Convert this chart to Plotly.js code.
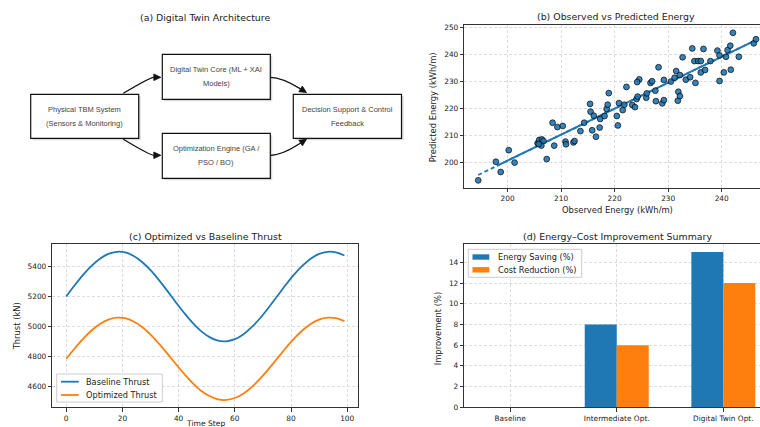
<!DOCTYPE html>
<html><head><meta charset="utf-8">
<script src="https://cdn.plot.ly/plotly-3.0.1.min.js"></script>
<style>html,body{margin:0;padding:0;background:#fff}#chart{width:760px;height:427px}</style>
</head><body><div id="chart"></div>
<script>
// ---------- (a) architecture nodes ----------
const nodeLabels = [
  ["Physical TBM System", "(Sensors & Monitoring)"],
  ["Digital Twin Core (ML + XAI", "Models)"],
  ["Optimization Engine (GA /", "PSO / BO)"],
  ["Decision Support & Control", "Feedback"]
];

// ---------- (b) observed vs predicted ----------
const observedEnergy = [194.5,197.8,198.7,200.2,201.3,205.6,205.9,206.4,206.7,206.3,
  205.8,207.3,208.4,209.3,210.3,208.7,210.8,210.9,212.3,212.5,
  213.6,214.3,215.4,215.5,216.1,215.8,216.5,217.2,217.3,218.1,
  218.5,218.7,218.9,220.4,220.6,220.8,221.5,221.8,222.2,223.3,
  223.8,224.1,224.3,224.6,224.2,225.9,226.0,226.7,227.0,227.6,
  227.7,228.2,228.9,229.2,229.2,230.5,231.2,231.5,231.8,231.9,
  232.2,232.2,232.7,233.3,234.1,234.5,234.9,235.1,235.6,236.1,
  236.1,236.6,236.9,237.9,239.2,239.6,239.6,240.4,240.8,241.1,
  241.6,241.7,242.1,243.2,246.0,246.4];
const predictedEnergy = [193.3,200.2,196.4,204.5,199.9,207.1,208.3,208.5,207.9,206.2,
  206.8,201.2,214.7,213.1,213.5,206.2,207.7,206.7,207.4,207.9,
  211.6,214.7,221.7,218.8,217.3,211.9,209.5,212.9,216.1,217.2,
  219.8,221.4,225.7,217.2,213.7,222.0,219.4,221.4,228.0,221.3,
  220.5,223.5,224.4,230.8,229.8,224.0,225.6,229.5,230.1,226.6,
  222.7,235.3,221.9,223.1,230.6,230.0,231.4,233.9,222.9,226.2,
  224.6,232.4,239.0,230.7,231.6,242.3,237.6,229.5,237.6,237.6,
  233.4,242.1,234.3,237.6,241.5,230.2,239.7,233.4,239.2,241.7,
  243.3,234.4,248.1,239.2,244.2,245.7];
const idealObserved = [194.5, 246.4];
const idealPredicted = [195.3, 245.4];
const fitObserved = [198.0, 246.4];
const fitPredicted = [198.7, 245.4];

// ---------- (c) thrust ----------
const timeStep = [0,3,6,9,12,15,18,21,24,27,30,33,36,39,42,45,48,51,54,57,60,63,66,69,72,75,78,81,84,87,90,93,96,99];
const baselineThrust = [5200,5275,5345,5405,5453,5485,5499,5495,5471,5431,5376,5310,5238,5162,5090,5024,4969,4929,4905,4901,4915,4947,4995,5055,5125,5200,5275,5345,5405,5453,5485,5499,5495,5474];
const optimizedThrust = [4784,4853,4917,4973,5017,5046,5059,5055,5033,4997,4946,4885,4819,4749,4683,4622,4571,4535,4513,4509,4522,4551,4595,4651,4715,4784,4853,4917,4973,5017,5046,5059,5055,5036];
const thrustSeriesNames = ["Baseline Thrust", "Optimized Thrust"];

// ---------- (d) summary ----------
const scenarios = ["Baseline", "Intermediate Opt.", "Digital Twin Opt."];
const energySaving = [0, 8, 15];
const costReduction = [0, 6, 12];
const summarySeriesNames = ["Energy Saving (%)", "Cost Reduction (%)"];

// ---------- helpers ----------
const W = 760, H = 427;
const px = x => x / W;
const py = y => 1 - y / H;
const BLUE = '#1f77b4', ORANGE = '#ff7f0e';
const FONT = 'DejaVu Sans, Verdana, sans-serif';
const TICKF = {family: FONT, size: 7.4, color: '#222'};
const BOXFONT = 'Liberation Sans, Arial, sans-serif';

const traces = [
  {x: idealObserved, y: idealPredicted, xaxis: 'x2', yaxis: 'y2', mode: 'lines',
   line: {color: BLUE, width: 1.8, dash: '4px,3px'}, showlegend: false, hoverinfo: 'skip'},
  {x: fitObserved, y: fitPredicted, xaxis: 'x2', yaxis: 'y2', mode: 'lines',
   line: {color: BLUE, width: 2}, showlegend: false, hoverinfo: 'skip'},
  {x: observedEnergy, y: predictedEnergy, xaxis: 'x2', yaxis: 'y2', mode: 'markers', type: 'scatter',
   marker: {color: BLUE, size: 5.8, opacity: 0.9, line: {color: '#000', width: 0.8}}, showlegend: false},
  {x: timeStep, y: baselineThrust, xaxis: 'x', yaxis: 'y', mode: 'lines', name: thrustSeriesNames[0],
   line: {color: BLUE, width: 1.8, shape: 'spline'}, showlegend: false},
  {x: timeStep, y: optimizedThrust, xaxis: 'x', yaxis: 'y', mode: 'lines', name: thrustSeriesNames[1],
   line: {color: ORANGE, width: 1.8, shape: 'spline'}, showlegend: false},
  {x: scenarios, y: energySaving, xaxis: 'x3', yaxis: 'y3', type: 'bar', name: summarySeriesNames[0],
   marker: {color: BLUE}, showlegend: false},
  {x: scenarios, y: costReduction, xaxis: 'x3', yaxis: 'y3', type: 'bar', name: summarySeriesNames[1],
   marker: {color: ORANGE}, showlegend: false}
];

const axBase = {
  showline: true, linecolor: '#333', linewidth: 1,
  ticks: 'outside', ticklen: 3.5, tickwidth: 0.8, tickcolor: '#333',
  tickfont: TICKF, showgrid: true, gridcolor: '#dcdcdc', gridwidth: 0.8, griddash: '3px,2px',
  zeroline: false, automargin: false
};

const cL = 52.3, cR = 358.3, rowBotTop = 244.3, rowBotBot = 407.3;
const bL = 464.3, bTop = 25, bBot = 187.7;

const layout = {
  width: W, height: H, margin: {l: 0, r: 0, t: 0, b: 0},
  paper_bgcolor: '#fff', plot_bgcolor: '#fff', showlegend: false,
  font: {family: FONT, size: 7.4, color: '#222'},
  bargap: 0.4, bargroupgap: 0, barmode: 'group',
  xaxis: Object.assign({}, axBase, {domain: [px(cL), px(cR)], anchor: 'y', range: [-4.95, 103.95],
    tickvals: [0, 20, 40, 60, 80, 100], mirror: true}),
  yaxis: Object.assign({}, axBase, {domain: [py(rowBotBot), py(rowBotTop)], anchor: 'x', range: [4460, 5549],
    tickvals: [4600, 4800, 5000, 5200, 5400], mirror: true}),
  xaxis2: Object.assign({}, axBase, {domain: [px(bL), 1], anchor: 'y2', range: [191.9, 247.16],
    tickvals: [200, 210, 220, 230, 240], mirror: true}),
  yaxis2: Object.assign({}, axBase, {domain: [py(bBot), py(bTop)], anchor: 'x2', range: [190.57, 251.0],
    tickvals: [200, 210, 220, 230, 240, 250], mirror: false}),
  xaxis3: Object.assign({}, axBase, {domain: [px(bL), 1], anchor: 'y3', type: 'category',
    range: [-0.43, 2.344], mirror: true}),
  yaxis3: Object.assign({}, axBase, {domain: [py(rowBotBot), py(rowBotTop)], anchor: 'x3', range: [0, 15.75],
    tickvals: [0, 2, 4, 6, 8, 10, 12, 14], mirror: false}),
  shapes: [],
  annotations: []
};

function ann(text, x, y, extra) {
  layout.annotations.push(Object.assign({
    text: text, x: px(x), y: py(y), xref: 'paper', yref: 'paper', showarrow: false,
    xanchor: 'center', yanchor: 'middle', font: {family: FONT, size: 9.4, color: '#222'}
  }, extra || {}));
}
function rect(x0, y0, x1, y1, fill, line) {
  layout.shapes.push({type: 'rect', xref: 'paper', yref: 'paper', layer: 'above',
    x0: px(x0), x1: px(x1), y0: py(y0), y1: py(y1), fillcolor: fill, line: line || {width: 0}});
}

// titles
ann('(a) Digital Twin Architecture', 205.3, 17);
ann('(b) Observed vs Predicted Energy', 616.3, 16.7);
ann('(c) Optimized vs Baseline Thrust', 205.3, 236.7);
ann('(d) Energy\u2013Cost Improvement Summary', 617.2, 236.7);
// axis labels
const lab = {family: FONT, size: 8.4, color: '#222'};
ann('Observed Energy (kWh/m)', 617, 210.3, {font: lab});
ann('Predicted Energy (kWh/m)', 433.3, 107, {font: lab, textangle: -90});
ann('Thrust (kN)', 17.3, 326, {font: lab, textangle: -90});
ann('Time Step', 205.3, 423.6, {font: {family: FONT, size: 7.6, color: '#222'}});
ann('Improvement (%)', 438.3, 328, {font: lab, textangle: -90});

// legends (drawn as layout decorations)
const legF = {family: FONT, size: 8.2, color: '#222'};
rect(56.7, 374, 162.3, 402, 'rgba(255,255,255,0.85)', {color: '#cccccc', width: 1});
[[BLUE, 381.7], [ORANGE, 395]].forEach((e, i) => {
  layout.shapes.push({type: 'line', xref: 'paper', yref: 'paper', layer: 'above',
    x0: px(61), x1: px(78.7), y0: py(e[1]), y1: py(e[1]), line: {color: e[0], width: 1.8}});
  ann(thrustSeriesNames[i], 84.3, e[1], {font: legF, xanchor: 'left'});
});
rect(468.3, 249.3, 581.7, 277.3, 'rgba(255,255,255,0.85)', {color: '#cccccc', width: 1});
[[BLUE, 257], [ORANGE, 269.8]].forEach((e, i) => {
  rect(472.5, e[1] - 2.7, 489.3, e[1] + 2.7, e[0]);
  ann(summarySeriesNames[i], 496, e[1], {font: legF, xanchor: 'left'});
});

// (a) diagram boxes (pixel layout)
const boxes = [
  [30.7, 94.3, 138.7, 138.3],
  [162.3, 54.3, 270.3, 99.3],
  [162.3, 133.3, 270.3, 178.3],
  [293.3, 94.3, 401.5, 138.3]
];
boxes.forEach((b, i) => {
  rect(b[0] + 2, b[1] + 2, b[2] + 2, b[3] + 2, '#d9d9d9');
  rect(b[0], b[1], b[2], b[3], '#ffffff', {color: '#111', width: 1.2});
  const cx = (b[0] + b[2]) / 2, cy = (b[1] + b[3]) / 2;
  const lines = nodeLabels[i];
  lines.forEach((t, k) => {
    ann(t, cx, cy + (k - (lines.length - 1) / 2) * 14,
      {font: {family: BOXFONT, size: 7.5, color: '#444'}});
  });
});

// (a) curved arrows between boxes
const edgeGeom = [
  {p0: [123.3, 93.3], c: [150, 77.3], p2: [160.8, 77.3]},
  {p0: [123.3, 139.3], c: [150, 155.3], p2: [160.8, 155.3]},
  {p0: [270.3, 77.3], c: [282, 77.3], p2: [306.5, 92.6]},
  {p0: [270.3, 155.3], c: [282, 155.3], p2: [306.5, 139.2]}
];
edgeGeom.forEach(g => {
  const f = v => px(v[0]).toFixed(5) + ',' + py(v[1]).toFixed(5);
  const dx = g.p2[0] - g.c[0], dy = g.p2[1] - g.c[1];
  const L = Math.hypot(dx, dy), ux = dx / L, uy = dy / L;
  const hl = 7, hw = 3.3;
  const base = [g.p2[0] - ux * hl, g.p2[1] - uy * hl];
  layout.shapes.push({type: 'path', xref: 'paper', yref: 'paper', layer: 'above',
    path: 'M' + f(g.p0) + ' Q' + f(g.c) + ' ' + f(base),
    line: {color: '#111', width: 1.3}});
  const b1 = [base[0] - uy * hw, base[1] + ux * hw];
  const b2 = [base[0] + uy * hw, base[1] - ux * hw];
  layout.shapes.push({type: 'path', xref: 'paper', yref: 'paper', layer: 'above',
    path: 'M' + f(g.p2) + ' L' + f(b1) + ' L' + f(b2) + ' Z',
    fillcolor: '#111', line: {color: '#111', width: 0.8}});
});

Plotly.newPlot('chart', traces, layout, {displayModeBar: false, responsive: false});
</script>
</body></html>
